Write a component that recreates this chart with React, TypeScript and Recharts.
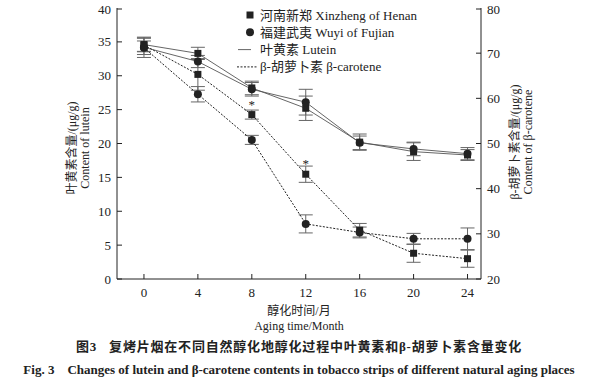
import React from "react"
import { LineChart, Line, XAxis, YAxis, ErrorBar, LabelList } from "recharts"

// aging time (months)
const months = [0, 4, 8, 12, 16, 20, 24]
const monthTicks = [0, 4, 8, 12, 16, 20, 24]
const luteinTicks = [0, 5, 10, 15, 20, 25, 30, 35, 40]
const caroteneTicks = [20, 30, 40, 50, 60, 70, 80]

// lutein, left axis (μg/g)
const luteinHenan = [34.6, 33.3, 28.2, 25.2, 20.2, 18.8, 18.3]
const luteinHenanErr = [1.0, 0.9, 1.0, 1.8, 1.2, 1.3, 0.8]
const luteinFujian = [34.2, 32.1, 28.0, 26.1, 20.1, 19.2, 18.5]
const luteinFujianErr = [1.5, 0.9, 1.0, 1.9, 1.0, 1.0, 0.9]

// β-carotene, right axis (μg/g)
const caroteneHenan = [71.8, 65.3, 56.4, 43.2, 30.8, 25.7, 24.5]
const caroteneHenanErr = [1.5, 3.5, 1.0, 1.8, 1.5, 2.0, 1.9]
const caroteneFujian = [71.2, 60.9, 50.8, 32.2, 30.3, 28.9, 28.9]
const caroteneFujianErr = [1.5, 1.7, 1.0, 2.0, 1.2, 1.2, 2.4]

// significance marks on the Henan β-carotene curve
const caroteneHenanMarks = ["", "", "*", "*", "", "", ""]

const legendItems = [
	{ kind: "square", label: "河南新郑 Xinzheng of Henan" },
	{ kind: "circle", label: "福建武夷 Wuyi of Fujian" },
	{ kind: "solid", label: "叶黄素 Lutein" },
	{ kind: "dashed", label: "β-胡萝卜素 β-carotene" },
]

const data = months.map((m, i) => ({
	month: m,
	luteinHenan: luteinHenan[i],
	luteinHenanErr: luteinHenanErr[i],
	luteinFujian: luteinFujian[i],
	luteinFujianErr: luteinFujianErr[i],
	caroteneHenan: caroteneHenan[i],
	caroteneHenanErr: caroteneHenanErr[i],
	caroteneFujian: caroteneFujian[i],
	caroteneFujianErr: caroteneFujianErr[i],
	mark: caroteneHenanMarks[i],
}))

const FONT = "'Liberation Serif', 'Noto Sans CJK SC', serif"
const INK = "#222"

const SquareDot = (props: any) => {
	const { cx, cy } = props
	if (cx == null || cy == null) return null
	return <rect x={cx - 3.5} y={cy - 3.5} width={7} height={7} fill={INK} />
}

const CircleDot = (props: any) => {
	const { cx, cy } = props
	if (cx == null || cy == null) return null
	return <circle cx={cx} cy={cy} r={4} fill={INK} />
}

// inward ticks: tickSize is 0, so the label sits tickMargin away from the axis line
const LeftTick = (props: any) => {
	const { x, y, payload } = props
	const ax = x + 6
	return (
		<g>
			<line x1={ax} x2={ax + 5} y1={y} y2={y} stroke={INK} />
			<text x={x} y={y} dy="0.35em" textAnchor="end" fontSize={13} fontFamily={FONT} fill={INK}>
				{payload.value}
			</text>
		</g>
	)
}

const RightTick = (props: any) => {
	const { x, y, payload } = props
	const ax = x - 6
	return (
		<g>
			<line x1={ax} x2={ax - 5} y1={y} y2={y} stroke={INK} />
			<text x={x} y={y} dy="0.35em" textAnchor="start" fontSize={13} fontFamily={FONT} fill={INK}>
				{payload.value}
			</text>
		</g>
	)
}

const BottomTick = (props: any) => {
	const { x, y, payload } = props
	const ay = y - 9
	return (
		<g>
			<line x1={x} x2={x} y1={ay} y2={ay - 5} stroke={INK} />
			<text x={x} y={y} dy="0.71em" textAnchor="middle" fontSize={13} fontFamily={FONT} fill={INK}>
				{payload.value}
			</text>
		</g>
	)
}

const AxisTitle = ({ cx, cy, lines }: { cx: number; cy: number; lines: string[] }) => (
	<g>
		{lines.map((t, i) => (
			<text
				key={i}
				x={cx + i * 13}
				y={cy}
				transform={`rotate(-90, ${cx + i * 13}, ${cy})`}
				textAnchor="middle"
				dominantBaseline="central"
				fontSize={12}
				fontFamily={FONT}
				fill={INK}>
				{t}
			</text>
		))}
	</g>
)

const StarLabel = (props: any) => {
	const { x, y, value } = props
	if (!value) return null
	return (
		<text x={x} y={y - 6} textAnchor="middle" fontSize={13} fontFamily={FONT} fill={INK}>
			{value}
		</text>
	)
}

const LegendBox = () => (
	<svg width={200} height={80} style={{ position: "absolute", left: 230, top: 0, overflow: "visible" }}>
		{legendItems.map((item, i) => {
			const y = 15 + i * 17.3
			return (
				<g key={i}>
					{item.kind === "square" && <rect x={16.5} y={y - 3.5} width={7} height={7} fill={INK} />}
					{item.kind === "circle" && <circle cx={20} cy={y} r={4} fill={INK} />}
					{item.kind === "solid" && <line x1={8} x2={21} y1={y} y2={y} stroke="#555" strokeWidth={0.9} />}
					{item.kind === "dashed" && (
						<line x1={7} x2={27} y1={y} y2={y} stroke={INK} strokeWidth={1} strokeDasharray="2 1.5" />
					)}
					<text x={30} y={y} dy="0.35em" fontSize={13} fontFamily={FONT} fill={INK}>
						{item.label}
					</text>
				</g>
			)
		})}
	</svg>
)

const errStyle = { stroke: "#666", strokeWidth: 1 }

export default function App() {
	return (
		<div
			style={{
				position: "absolute",
				left: 0,
				top: 0,
				width: 598,
				height: 385,
				background: "#fff",
				fontFamily: FONT,
				color: INK,
			}}>
			<LineChart width={598} height={300} data={data} margin={{ top: 8, right: 0, left: 0, bottom: 0 }}>
				<XAxis
					dataKey="month"
					type="number"
					domain={[-2, 25]}
					ticks={monthTicks}
					height={21}
					tickSize={0}
					tickMargin={9}
					tick={<BottomTick />}
					axisLine={{ stroke: INK }}
				/>
				<YAxis
					yAxisId="left"
					domain={[0, 40]}
					ticks={luteinTicks}
					width={117}
					tickSize={0}
					tickMargin={6}
					tick={<LeftTick />}
					axisLine={{ stroke: INK }}
					label={{ content: () => <AxisTitle cx={72} cy={148} lines={["叶黄素含量/(μg/g)", "Content of lutein"]} /> }}
				/>
				<YAxis
					yAxisId="right"
					orientation="right"
					domain={[20, 80]}
					ticks={caroteneTicks}
					width={117}
					tickSize={0}
					tickMargin={6}
					tick={<RightTick />}
					axisLine={{ stroke: INK }}
					label={{
						content: () => (
							<AxisTitle cx={515} cy={142} lines={["β-胡萝卜素含量/(μg/g)", "Content of β-carotene"]} />
						),
					}}
				/>
				<Line
					yAxisId="left"
					dataKey="luteinHenan"
					stroke="#555"
					strokeWidth={0.9}
					dot={<SquareDot />}
					activeDot={false}
					isAnimationActive={false}>
					<ErrorBar dataKey="luteinHenanErr" width={7} {...errStyle} />
				</Line>
				<Line
					yAxisId="left"
					dataKey="luteinFujian"
					stroke="#555"
					strokeWidth={0.9}
					dot={<CircleDot />}
					activeDot={false}
					isAnimationActive={false}>
					<ErrorBar dataKey="luteinFujianErr" width={7} {...errStyle} />
				</Line>
				<Line
					yAxisId="right"
					dataKey="caroteneHenan"
					stroke={INK}
					strokeWidth={1}
					strokeDasharray="2 1.5"
					dot={<SquareDot />}
					activeDot={false}
					isAnimationActive={false}>
					<ErrorBar dataKey="caroteneHenanErr" width={7} {...errStyle} />
					<LabelList dataKey="mark" content={<StarLabel />} />
				</Line>
				<Line
					yAxisId="right"
					dataKey="caroteneFujian"
					stroke={INK}
					strokeWidth={1}
					strokeDasharray="2 1.5"
					dot={<CircleDot />}
					activeDot={false}
					isAnimationActive={false}>
					<ErrorBar dataKey="caroteneFujianErr" width={7} {...errStyle} />
				</Line>
			</LineChart>
			<LegendBox />
			<div style={{ position: "absolute", left: 0, width: 598, top: 304, textAlign: "center", fontSize: 12, lineHeight: "15px" }}>
				<div>醇化时间/月</div>
				<div>Aging time/Month</div>
			</div>
			<div
				style={{
					position: "absolute",
					left: 0,
					width: 598,
					top: 339,
					textAlign: "center",
					fontSize: 13,
					fontWeight: "bold",
					lineHeight: "16px",
					letterSpacing: "0.8px",
					whiteSpace: "pre",
				}}>
				{"图3   复烤片烟在不同自然醇化地醇化过程中叶黄素和β-胡萝卜素含量变化"}
			</div>
			<div
				style={{
					position: "absolute",
					left: 0,
					width: 598,
					top: 362,
					textAlign: "center",
					fontSize: 13,
					fontWeight: "bold",
					lineHeight: "16px",
					whiteSpace: "pre",
				}}>
				{"Fig. 3    Changes of lutein and β-carotene contents in tobacco strips of different natural aging places"}
			</div>
		</div>
	)
}
